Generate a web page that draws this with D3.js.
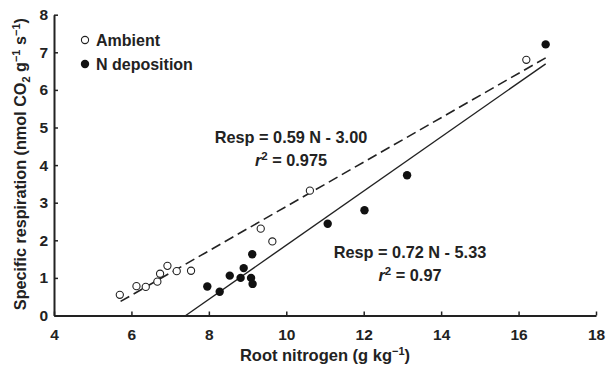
<!DOCTYPE html>
<html lang="en">
<head>
<meta charset="UTF-8">
<title>Root nitrogen vs specific respiration</title>
<script src="https://d3js.org/d3.v7.min.js"></script>
<style>
    body{ margin:0; background:#fff; }
    svg{ display:block; }
    text{ font-family: "Liberation Sans", Arial, sans-serif; font-weight:bold; fill:#222; }
</style>
</head>
<body>
<script>
    const width = 608
    const height = 369

    // data
    const ambientN    = [5.70, 6.13, 6.37, 6.67, 6.74, 6.93, 7.17, 7.54, 9.34, 9.64, 10.61, 16.20]
    const ambientResp = [0.55, 0.78, 0.76, 0.90, 1.11, 1.32, 1.18, 1.19, 2.31, 1.97, 3.32, 6.80]
    const depoN       = [7.96, 8.28, 8.54, 8.82, 8.90, 9.09, 9.13, 9.12, 11.07, 12.02, 13.12, 16.70]
    const depoResp    = [0.77, 0.63, 1.06, 1.00, 1.26, 1.00, 0.84, 1.63, 2.44, 2.80, 3.73, 7.21]

    // regression lines: slope, intercept, N range
    const fitAmbient = {slope: 0.59, intercept: -3.00, from: 5.72, to: 16.7}
    const fitDepo    = {slope: 0.72, intercept: -5.33, from: 5.33/0.72, to: 16.7}

    const xTicks = [4, 6, 8, 10, 12, 14, 16, 18]
    const yTicks = [0, 1, 2, 3, 4, 5, 6, 7, 8]

    const margin = {left: 54, right: 12, top: 14.7, bottom: 53.5}

    const svg = d3.select("body").append("svg")
        .attr("width", width).attr("height", height)

    const x = d3.scaleLinear().domain([4, 18]).range([margin.left, width - margin.right])
    const y = d3.scaleLinear().domain([0, 8]).range([height - margin.bottom, margin.top])

    // axes (ticks point inward)
    svg.append("g")
        .attr("transform", `translate(0,${y(0)})`)
        .call(d3.axisBottom(x).tickValues(xTicks).tickFormat(d3.format("d"))
            .tickSizeInner(-4).tickSizeOuter(0).tickPadding(13))
    svg.append("g")
        .attr("transform", `translate(${x(4)},0)`)
        .call(d3.axisLeft(y).tickValues(yTicks).tickFormat(d3.format("d"))
            .tickSizeInner(-4).tickSizeOuter(0).tickPadding(6))

    svg.selectAll(".domain").attr("stroke", "#222").attr("stroke-width", 2)
    svg.selectAll(".tick line").attr("stroke", "#222").attr("stroke-width", 1.5)
    svg.selectAll(".tick text").attr("font-size", 15.5).attr("font-family", null).attr("fill", "#222")

    // fitted lines
    function fitLine(f) {
        return [[f.from, f.slope * f.from + f.intercept], [f.to, f.slope * f.to + f.intercept]]
    }
    const line = d3.line().x(d => x(d[0])).y(d => y(d[1]))

    svg.append("path").attr("d", line(fitLine(fitAmbient)))
        .attr("fill", "none").attr("stroke", "#222").attr("stroke-width", 1.6)
        .attr("stroke-dasharray", "10,5")
    svg.append("path").attr("d", line(fitLine(fitDepo)))
        .attr("fill", "none").attr("stroke", "#222").attr("stroke-width", 1.4)

    // points
    svg.append("g").selectAll("circle")
        .data(ambientN.map((n, i) => [n, ambientResp[i]]))
        .enter().append("circle")
        .attr("cx", d => x(d[0])).attr("cy", d => y(d[1])).attr("r", 3.6)
        .attr("fill", "#fff").attr("stroke", "#222").attr("stroke-width", 1.1)

    svg.append("g").selectAll("circle")
        .data(depoN.map((n, i) => [n, depoResp[i]]))
        .enter().append("circle")
        .attr("cx", d => x(d[0])).attr("cy", d => y(d[1])).attr("r", 4.2)
        .attr("fill", "#111")

    // legend
    svg.append("circle").attr("cx", 85).attr("cy", 40).attr("r", 3.6)
        .attr("fill", "#fff").attr("stroke", "#222").attr("stroke-width", 1.1)
    svg.append("text").attr("x", 96).attr("y", 45.5).attr("font-size", 16).text("Ambient")
    svg.append("circle").attr("cx", 85).attr("cy", 64).attr("r", 4.2).attr("fill", "#111")
    svg.append("text").attr("x", 96).attr("y", 69.5).attr("font-size", 16).text("N deposition")

    // equations
    function equation(cx, cy, resp, r2) {
        svg.append("text").attr("x", cx).attr("y", cy).attr("font-size", 16.3)
            .attr("text-anchor", "middle").text(resp)
        const t = svg.append("text").attr("x", cx).attr("y", cy + 23).attr("font-size", 16.3)
            .attr("text-anchor", "middle")
        t.append("tspan").attr("font-style", "italic").text("r")
        t.append("tspan").attr("font-size", 11.5).attr("dy", -6).text("2")
        t.append("tspan").attr("dy", 6).text(" = " + r2)
    }
    equation(291, 142.5, "Resp = 0.59 N - 3.00", "0.975")
    equation(410, 257.5, "Resp = 0.72 N - 5.33", "0.97")

    // axis titles
    const xt = svg.append("text").attr("x", x(11)).attr("y", 361).attr("font-size", 16.5)
        .attr("text-anchor", "middle")
    xt.append("tspan").text("Root nitrogen (g kg")
    xt.append("tspan").attr("font-size", 11).attr("dy", -6).text("\u22121")
    xt.append("tspan").attr("dy", 6).text(")")

    const yt = svg.append("text").attr("transform", `translate(26,${y(4) - 1}) rotate(-90)`)
        .attr("font-size", 16.2).attr("text-anchor", "middle")
    yt.append("tspan").text("Specific respiration (nmol CO")
    yt.append("tspan").attr("font-size", 11).attr("dy", 4).text("2")
    yt.append("tspan").attr("dy", -4).text(" g")
    yt.append("tspan").attr("font-size", 11).attr("dy", -6).text("\u22121")
    yt.append("tspan").attr("dy", 6).text(" s")
    yt.append("tspan").attr("font-size", 11).attr("dy", -6).text("\u22121")
    yt.append("tspan").attr("dy", 6).text(")")
</script>
</body>
</html>
